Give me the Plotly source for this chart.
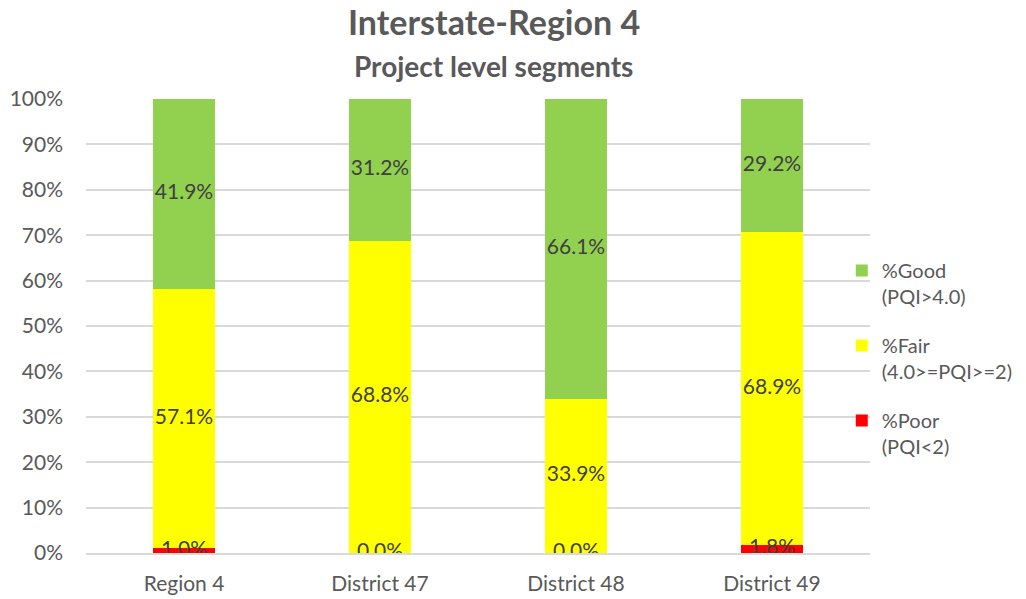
import plotly.graph_objects as go

categories = ["Region 4", "District 47", "District 48", "District 49"]
poor = [1.0, 0.0, 0.0, 1.8]
fair = [57.1, 68.8, 33.9, 68.9]
good = [41.9, 31.2, 66.1, 29.2]

series = [
    ("%Poor<br>(PQI<2)", poor, "#ff0000"),
    ("%Fair<br>(4.0>=PQI>=2)", fair, "#ffff00"),
    ("%Good<br>(PQI>4.0)", good, "#92d050"),
]

FONT = "Lato, 'Open Sans', sans-serif"
TEXT_GREY = "#595959"

PLOT_TOP, PLOT_BOTTOM = 99, 553
PLOT_H = PLOT_BOTTOM - PLOT_TOP

fig = go.Figure()
base = [0.0] * len(categories)
label_x, label_y, label_t = [], [], []
for i, (name, vals, color) in enumerate(series):
    fig.add_trace(go.Bar(
        x=categories, y=vals, name=name, marker_color=color,
        marker_line_width=0, legendgroup=f"g{i}", hoverinfo="skip",
        legendrank=1000 - i,  # top segment listed first
    ))
    for c, b, v in zip(categories, base, vals):
        label_x.append(c)
        label_y.append(b + v / 2)
        label_t.append(f"{v:.1f}%")
    base = [b + v for b, v in zip(base, vals)]

# segment value labels centred in each stacked segment
fig.add_trace(go.Scatter(
    x=label_x, y=label_y, text=label_t, mode="text",
    textfont=dict(family=FONT, size=21, color="#404040"),
    showlegend=False, hoverinfo="skip",
))

fig.update_layout(
    barmode="stack",
    bargap=0.684,
    width=1026, height=599,
    margin=dict(l=86, r=156, t=PLOT_TOP, b=599 - PLOT_BOTTOM, autoexpand=False),
    paper_bgcolor="white", plot_bgcolor="white",
    font=dict(family=FONT, color=TEXT_GREY, size=20),
    showlegend=True,
    legend=dict(
        x=1.0 - 0.036, xanchor="left",
        y=(PLOT_BOTTOM - 251) / PLOT_H, yanchor="top",
        traceorder="grouped", tracegroupgap=20, valign="top",
        font=dict(family=FONT, size=20, color=TEXT_GREY),
        itemwidth=30, bgcolor="rgba(0,0,0,0)",
    ),
)

# title lines placed in pixels from the top of the page
fig.add_annotation(text="<b>Interstate-Region 4</b>", xref="paper", yref="paper",
                   x=0.52, y=1 + (PLOT_TOP - 22) / PLOT_H, yanchor="middle",
                   showarrow=False,
                   font=dict(family=FONT, size=34, color=TEXT_GREY))
fig.add_annotation(text="<b>Project level segments</b>", xref="paper", yref="paper",
                   x=0.52, y=1 + (PLOT_TOP - 66) / PLOT_H, yanchor="middle",
                   showarrow=False,
                   font=dict(family=FONT, size=28, color=TEXT_GREY))

fig.update_yaxes(
    range=[0, 100], dtick=10, ticksuffix="%",
    showgrid=True, gridcolor="#d9d9d9", gridwidth=1.5,
    zeroline=False, showline=False, ticks="", automargin=False,
    ticklabelstandoff=22,
    tickfont=dict(family=FONT, size=21, color=TEXT_GREY),
)
fig.update_xaxes(
    showline=True, linecolor="#d9d9d9", linewidth=1.5, ticks="",
    automargin=False, ticklabelstandoff=11,
    tickfont=dict(family=FONT, size=21, color=TEXT_GREY),
)

fig.write_html("out.html")
